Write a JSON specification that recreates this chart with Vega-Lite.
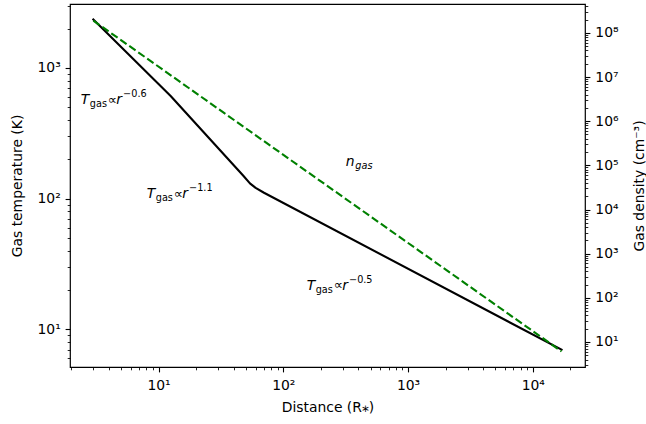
{
  "$schema": "https://vega.github.io/schema/vega-lite/v6.json",
  "width": 515,
  "height": 363,
  "autosize": {"type": "none"},
  "padding": {"left": 70, "top": 4, "right": 61, "bottom": 57},
  "background": "white",
  "datasets": {
    "temp": [
      {"r": 3, "T": 2350},
      {"r": 12.5, "T": 610},
      {"r": 48, "T": 149},
      {"r": 54, "T": 131},
      {"r": 60, "T": 121},
      {"r": 70, "T": 111},
      {"r": 17000, "T": 7}
    ],
    "dens": [
      {"r": 3, "n": 190000000},
      {"r": 17000, "n": 6.1}
    ],
    "tlab": [
      {"r": 2.38, "T": 529, "main": "T", "sub": "gas", "prop": "∝", "rr": "r", "sup": "−0.6"},
      {"r": 8.04, "T": 101, "main": "T", "sub": "gas", "prop": "∝", "rr": "r", "sup": "−1.1"},
      {"r": 154, "T": 20.1, "main": "T", "sub": "gas", "prop": "∝", "rr": "r", "sup": "−0.5"}
    ],
    "nlab": [
      {"r": 317, "T": 176.6, "main": "n", "sub": "gas"}
    ]
  },
  "config": {
    "view": {"stroke": "black", "strokeWidth": 1.2},
    "font": "DejaVu Sans",
    "axis": {
      "grid": false,
      "domain": false,
      "tickColor": "black",
      "labelColor": "black",
      "titleColor": "black",
      "labelFont": "DejaVu Sans",
      "titleFont": "DejaVu Sans",
      "labelFontSize": 13.9,
      "titleFontSize": 13.9,
      "titleFontWeight": "normal",
      "tickWidth": 1.1,
      "tickSize": 4.9,
      "labelPadding": 4.9
    }
  },
  "resolve": {
    "scale": {"x": "independent", "y": "independent"},
    "axis": {"x": "independent", "y": "independent"}
  },
  "layer": [
    {
      "data": {"name": "temp"},
      "mark": {"type": "line", "color": "black", "strokeWidth": 2.1, "strokeCap": "square", "strokeJoin": "round"},
      "encoding": {
        "x": {"field": "r", "type": "quantitative",
          "scale": {"type": "log", "domain": [1.95, 26200], "nice": false, "zero": false},
          "axis": {"orient": "bottom", "values": [10, 100, 1000, 10000],
            "labelExpr": "'10' + ['⁰','¹','²','³','⁴','⁵','⁶','⁷','⁸'][round(log(datum.value)/LN10)]",
            "labelPadding": 7,
            "title": "Distance (R⁎)", "titlePadding": 8}},
        "y": {"field": "T", "type": "quantitative",
          "scale": {"type": "log", "domain": [5.16, 3085], "nice": false, "zero": false},
          "axis": {"orient": "left", "values": [10, 100, 1000],
            "labelExpr": "'10' + ['⁰','¹','²','³','⁴','⁵','⁶','⁷','⁸'][round(log(datum.value)/LN10)]",
            "title": "Gas temperature (K)", "titlePadding": 12}}
      }
    },
    {
      "data": {"name": "temp"},
      "mark": {"type": "line", "opacity": 0},
      "encoding": {
        "x": {"field": "r", "type": "quantitative",
          "scale": {"type": "log", "domain": [1.95, 26200], "nice": false, "zero": false},
          "axis": {"orient": "bottom", "values": [2,3,4,5,6,7,8,9,20,30,40,50,60,70,80,90,200,300,400,500,600,700,800,900,2000,3000,4000,5000,6000,7000,8000,9000,20000],
            "labels": false, "title": null, "tickSize": 2.8, "tickWidth": 0.85}},
        "y": {"field": "T", "type": "quantitative",
          "scale": {"type": "log", "domain": [5.16, 3085], "nice": false, "zero": false},
          "axis": {"orient": "left", "values": [6,7,8,9,20,30,40,50,60,70,80,90,200,300,400,500,600,700,800,900,2000,3000],
            "labels": false, "title": null, "tickSize": 2.8, "tickWidth": 0.85}}
      }
    },
    {
      "data": {"name": "dens"},
      "mark": {"type": "line", "color": "#008000", "strokeWidth": 2.1, "strokeDash": [7.7, 3.3]},
      "encoding": {
        "x": {"field": "r", "type": "quantitative",
          "scale": {"type": "log", "domain": [1.95, 26200], "nice": false, "zero": false},
          "axis": null},
        "y": {"field": "n", "type": "quantitative",
          "scale": {"type": "log", "domain": [2.71, 451000000], "nice": false, "zero": false},
          "axis": {"orient": "right", "values": [10, 100, 1000, 10000, 100000, 1000000, 10000000, 100000000],
            "labelExpr": "'10' + ['⁰','¹','²','³','⁴','⁵','⁶','⁷','⁸'][round(log(datum.value)/LN10)]",
            "title": "Gas density (cm⁻³)", "titleAngle": 270, "titlePadding": 28}}
      }
    },
    {
      "data": {"name": "dens"},
      "mark": {"type": "line", "opacity": 0},
      "encoding": {
        "x": {"field": "r", "type": "quantitative",
          "scale": {"type": "log", "domain": [1.95, 26200], "nice": false, "zero": false},
          "axis": null},
        "y": {"field": "n", "type": "quantitative",
          "scale": {"type": "log", "domain": [2.71, 451000000], "nice": false, "zero": false},
          "axis": {"orient": "right", "values": [3,4,5,6,7,8,9,20,30,40,50,60,70,80,90,200,300,400,500,600,700,800,900,2000,3000,4000,5000,6000,7000,8000,9000,20000,30000,40000,50000,60000,70000,80000,90000,200000,300000,400000,500000,600000,700000,800000,900000,2000000,3000000,4000000,5000000,6000000,7000000,8000000,9000000,20000000,30000000,40000000,50000000,60000000,70000000,80000000,90000000,200000000,300000000,400000000],
            "labels": false, "title": null, "tickSize": 2.8, "tickWidth": 0.85}}
      }
    },
    {
      "data": {"name": "tlab"},
      "mark": {"type": "text", "align": "left", "baseline": "alphabetic", "fontSize": 13.9, "fontStyle": "italic", "color": "black"},
      "encoding": {
        "x": {"field": "r", "type": "quantitative", "scale": {"type": "log", "domain": [1.95, 26200], "nice": false, "zero": false}, "axis": null},
        "y": {"field": "T", "type": "quantitative", "scale": {"type": "log", "domain": [5.16, 3085], "nice": false, "zero": false}, "axis": null},
        "text": {"field": "main"}
      }
    },
    {
      "data": {"name": "tlab"},
      "mark": {"type": "text", "align": "left", "baseline": "alphabetic", "fontSize": 9.7, "dx": 9, "dy": 3, "color": "black"},
      "encoding": {
        "x": {"field": "r", "type": "quantitative", "scale": {"type": "log", "domain": [1.95, 26200], "nice": false, "zero": false}, "axis": null},
        "y": {"field": "T", "type": "quantitative", "scale": {"type": "log", "domain": [5.16, 3085], "nice": false, "zero": false}, "axis": null},
        "text": {"field": "sub"}
      }
    },
    {
      "data": {"name": "tlab"},
      "mark": {"type": "text", "align": "left", "baseline": "alphabetic", "fontSize": 13, "dx": 27, "dy": -0.5, "color": "black"},
      "encoding": {
        "x": {"field": "r", "type": "quantitative", "scale": {"type": "log", "domain": [1.95, 26200], "nice": false, "zero": false}, "axis": null},
        "y": {"field": "T", "type": "quantitative", "scale": {"type": "log", "domain": [5.16, 3085], "nice": false, "zero": false}, "axis": null},
        "text": {"field": "prop"}
      }
    },
    {
      "data": {"name": "tlab"},
      "mark": {"type": "text", "align": "left", "baseline": "alphabetic", "fontSize": 13.9, "fontStyle": "italic", "dx": 35.5, "color": "black"},
      "encoding": {
        "x": {"field": "r", "type": "quantitative", "scale": {"type": "log", "domain": [1.95, 26200], "nice": false, "zero": false}, "axis": null},
        "y": {"field": "T", "type": "quantitative", "scale": {"type": "log", "domain": [5.16, 3085], "nice": false, "zero": false}, "axis": null},
        "text": {"field": "rr"}
      }
    },
    {
      "data": {"name": "tlab"},
      "mark": {"type": "text", "align": "left", "baseline": "alphabetic", "fontSize": 9.7, "dx": 42.3, "dy": -7, "color": "black"},
      "encoding": {
        "x": {"field": "r", "type": "quantitative", "scale": {"type": "log", "domain": [1.95, 26200], "nice": false, "zero": false}, "axis": null},
        "y": {"field": "T", "type": "quantitative", "scale": {"type": "log", "domain": [5.16, 3085], "nice": false, "zero": false}, "axis": null},
        "text": {"field": "sup"}
      }
    },
    {
      "data": {"name": "nlab"},
      "mark": {"type": "text", "align": "left", "baseline": "alphabetic", "fontSize": 13.9, "fontStyle": "italic", "color": "black"},
      "encoding": {
        "x": {"field": "r", "type": "quantitative", "scale": {"type": "log", "domain": [1.95, 26200], "nice": false, "zero": false}, "axis": null},
        "y": {"field": "T", "type": "quantitative", "scale": {"type": "log", "domain": [5.16, 3085], "nice": false, "zero": false}, "axis": null},
        "text": {"field": "main"}
      }
    },
    {
      "data": {"name": "nlab"},
      "mark": {"type": "text", "align": "left", "baseline": "alphabetic", "fontSize": 9.7, "fontStyle": "italic", "dx": 9.5, "dy": 3, "color": "black"},
      "encoding": {
        "x": {"field": "r", "type": "quantitative", "scale": {"type": "log", "domain": [1.95, 26200], "nice": false, "zero": false}, "axis": null},
        "y": {"field": "T", "type": "quantitative", "scale": {"type": "log", "domain": [5.16, 3085], "nice": false, "zero": false}, "axis": null},
        "text": {"field": "sub"}
      }
    }
  ]
}
